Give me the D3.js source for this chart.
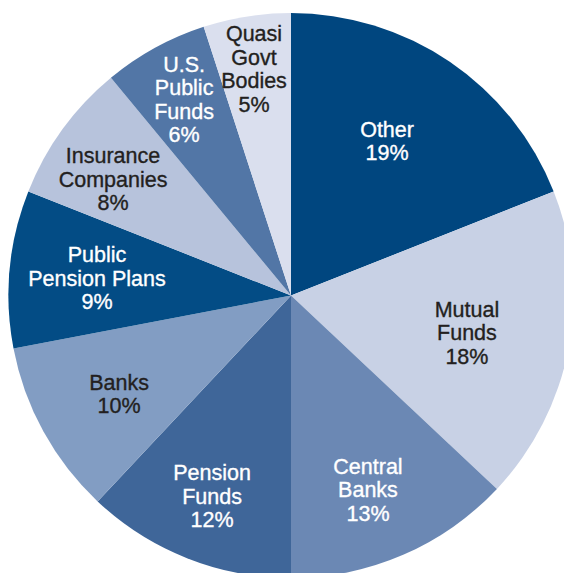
<!DOCTYPE html>
<html>
<head>
<meta charset="utf-8">
<script src="https://cdn.jsdelivr.net/npm/d3@7"></script>
<style>
  html, body { margin: 0; padding: 0; background: #ffffff; }
  svg { display: block; }
</style>
</head>
<body>
<svg id="chart" width="564" height="573"></svg>
<script>
// Data
const categories = ["Other", "Mutual\nFunds", "Central\nBanks", "Pension\nFunds", "Banks",
                    "Public\nPension Plans", "Insurance\nCompanies", "U.S.\nPublic\nFunds", "Quasi\nGovt\nBodies"];
const shares = [19, 18, 13, 12, 10, 9, 8, 6, 5];

// Styles / layout (separate from data)
const fills = ["#00467f", "#c8d1e5", "#6b88b4", "#3f6699", "#829dc3", "#034c85", "#b7c3dc", "#5276a6", "#dadfee"];
const textFills = ["#ffffff", "#231f20", "#ffffff", "#ffffff", "#231f20", "#ffffff", "#231f20", "#ffffff", "#231f20"];
const labelRadii = [182.3, 179.8, 208.7, 215.5, 198.2, 194.8, 212.7, 223.3, 230];
const labelAngleShift = [-2.4, 1.1, 1.75, -0.1, -1.0, -0.25, -2.8, 0.2, -0.26]; // degrees

const cx = 291, cy = 295.5, radius = 282.5;
const fontSize = 21.5, lineHeight = 23.5;

const svg = d3.select("#chart");
const g = svg.append("g").attr("transform", `translate(${cx},${cy})`);

const items = categories.map((c, i) => ({ name: c, value: shares[i], i }));

const pie = d3.pie().value(d => d.value).sort(null);
const arcs = pie(items);

const arc = d3.arc().innerRadius(0).outerRadius(radius);

g.selectAll("path.slice")
  .data(arcs)
  .join("path")
  .attr("class", "slice")
  .attr("d", arc)
  .attr("fill", d => fills[d.data.i]);

g.selectAll("text.lbl")
  .data(arcs)
  .join("text")
  .attr("class", "lbl")
  .attr("text-anchor", "middle")
  .attr("font-family", "'Liberation Sans', Arial, Helvetica, sans-serif")
  .attr("font-size", fontSize)
  .attr("fill", d => textFills[d.data.i])
  .attr("stroke", d => textFills[d.data.i])
  .attr("stroke-width", 0.35)
  .each(function(d) {
    const r = labelRadii[d.data.i];
    const a = (d.startAngle + d.endAngle) / 2 + labelAngleShift[d.data.i] * Math.PI / 180;
    const px = r * Math.sin(a), py = -r * Math.cos(a);
    const lines = d.data.name.split("\n").concat([d.data.value + "%"]);
    const n = lines.length;
    const t = d3.select(this);
    lines.forEach((ln, k) => {
      t.append("tspan")
        .attr("x", px)
        .attr("y", py + (k - (n - 1) / 2) * lineHeight)
        .attr("dy", "0.36em")
        .text(ln);
    });
  });
</script>
</body>
</html>
